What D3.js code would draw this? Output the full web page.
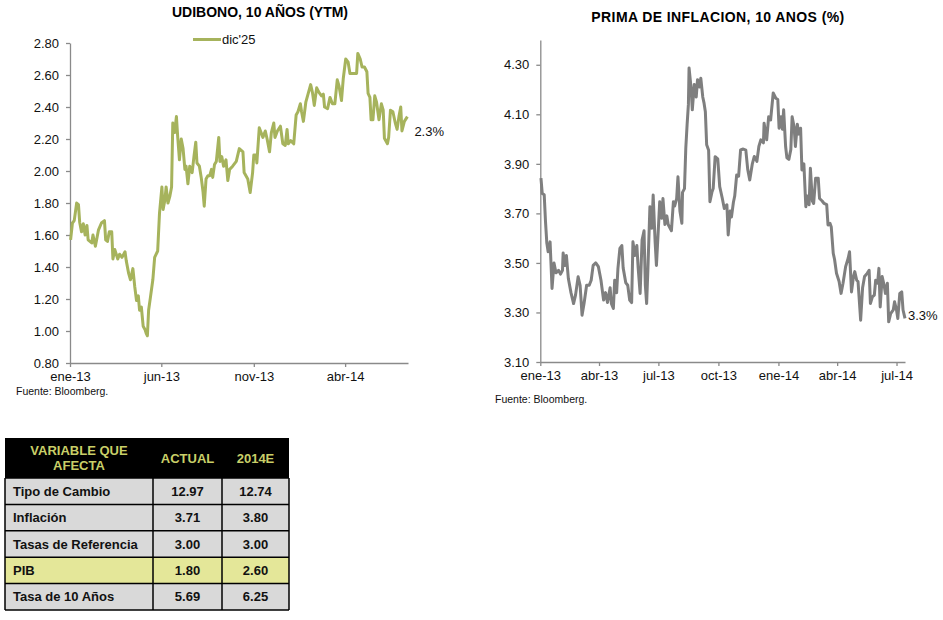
<!DOCTYPE html>
<html>
<head>
<meta charset="utf-8">
<script src="https://cdn.jsdelivr.net/npm/d3@7"></script>
<style>
  html, body { margin: 0; padding: 0; background: #fff; }
  svg { display: block; font-family: "Liberation Sans", Arial, sans-serif; }
</style>
</head>
<body>
<svg id="chart" width="943" height="620"></svg>
<script>
// ---------------- DATA ----------------
const monthNames = ["ene","feb","mar","abr","may","jun","jul","ago","sep","oct","nov","dic"];

const udibonoTitle = "UDIBONO, 10 AÑOS (YTM)";
const udibonoLegend = "dic'25";
const udibonoLastLabel = "2.3%";
const udibonoTicksY = [0.80, 1.00, 1.20, 1.40, 1.60, 1.80, 2.00, 2.20, 2.40, 2.60, 2.80];
const udibonoTicksX = ["2013-01-01", "2013-06-01", "2013-11-01", "2014-04-01"];
const udibonoData = [
  ["2013-01-02",1.57],["2013-01-05",1.675],["2013-01-08",1.69],["2013-01-12",1.80],["2013-01-15",1.79],
  ["2013-01-17",1.68],["2013-01-20",1.62],["2013-01-23",1.67],["2013-01-26",1.60],["2013-01-29",1.66],
  ["2013-01-31",1.57],["2013-02-06",1.55],["2013-02-08",1.60],["2013-02-12",1.53],["2013-02-17",1.63],
  ["2013-02-22",1.675],["2013-02-27",1.69],["2013-03-01",1.57],["2013-03-04",1.56],["2013-03-07",1.62],
  ["2013-03-11",1.62],["2013-03-13",1.45],["2013-03-16",1.51],["2013-03-21",1.45],["2013-03-24",1.48],
  ["2013-03-28",1.46],["2013-04-02",1.495],["2013-04-04",1.44],["2013-04-08",1.36],["2013-04-11",1.32],
  ["2013-04-15",1.39],["2013-04-18",1.28],["2013-04-21",1.19],["2013-04-24",1.22],["2013-04-26",1.13],
  ["2013-04-29",1.15],["2013-05-02",1.03],["2013-05-05",1.01],["2013-05-07",0.985],["2013-05-09",0.97],
  ["2013-05-11",1.13],["2013-05-14",1.21],["2013-05-18",1.32],["2013-05-21",1.46],["2013-05-26",1.50],
  ["2013-05-29",1.735],["2013-06-02",1.90],["2013-06-04",1.76],["2013-06-07",1.82],["2013-06-09",1.90],
  ["2013-06-12",1.80],["2013-06-15",1.84],["2013-06-18",1.90],["2013-06-20",2.30],["2013-06-23",2.24],
  ["2013-06-26",2.34],["2013-06-28",2.22],["2013-07-01",2.07],["2013-07-04",2.20],["2013-07-07",2.14],
  ["2013-07-10",2.01],["2013-07-12",2.03],["2013-07-15",1.92],["2013-07-18",2.03],["2013-07-22",1.99],
  ["2013-07-25",2.09],["2013-07-28",2.18],["2013-07-30",2.05],["2013-08-03",2.03],["2013-08-06",1.96],
  ["2013-08-09",1.87],["2013-08-11",1.78],["2013-08-14",1.95],["2013-08-17",1.97],["2013-08-20",1.97],
  ["2013-08-23",2.01],["2013-08-25",1.96],["2013-08-28",2.04],["2013-08-31",2.06],["2013-09-04",2.21],
  ["2013-09-06",2.06],["2013-09-09",2.09],["2013-09-12",2.03],["2013-09-16",2.07],["2013-09-19",1.94],
  ["2013-09-22",2.01],["2013-09-27",2.03],["2013-10-03",2.06],["2013-10-08",2.14],["2013-10-14",2.12],
  ["2013-10-16",1.99],["2013-10-22",1.95],["2013-10-26",1.865],["2013-10-30",1.99],["2013-11-01",2.10],
  ["2013-11-05",2.10],["2013-11-06",2.05],["2013-11-10",2.27],["2013-11-16",2.21],["2013-11-20",2.25],
  ["2013-11-23",2.20],["2013-11-27",2.12],["2013-11-30",2.24],["2013-12-04",2.30],["2013-12-06",2.21],
  ["2013-12-10",2.25],["2013-12-15",2.28],["2013-12-19",2.17],["2013-12-23",2.16],["2013-12-26",2.26],
  ["2013-12-28",2.17],["2014-01-01",2.19],["2014-01-06",2.17],["2014-01-10",2.35],["2014-01-13",2.37],
  ["2014-01-17",2.42],["2014-01-19",2.37],["2014-01-22",2.31],["2014-01-26",2.43],["2014-01-30",2.485],
  ["2014-02-03",2.54],["2014-02-06",2.49],["2014-02-09",2.41],["2014-02-13",2.52],["2014-02-17",2.49],
  ["2014-02-21",2.47],["2014-02-24",2.48],["2014-02-26",2.40],["2014-03-03",2.39],["2014-03-07",2.46],
  ["2014-03-11",2.42],["2014-03-15",2.42],["2014-03-19",2.57],["2014-03-22",2.53],["2014-03-26",2.44],
  ["2014-03-29",2.58],["2014-04-02",2.70],["2014-04-06",2.68],["2014-04-09",2.61],["2014-04-15",2.61],
  ["2014-04-20",2.61],["2014-04-22",2.735],["2014-04-26",2.70],["2014-04-29",2.65],["2014-05-03",2.65],
  ["2014-05-07",2.62],["2014-05-09",2.485],["2014-05-12",2.46],["2014-05-14",2.32],["2014-05-17",2.32],
  ["2014-05-20",2.47],["2014-05-23",2.43],["2014-05-27",2.32],["2014-05-31",2.42],["2014-06-03",2.38],
  ["2014-06-05",2.205],["2014-06-10",2.17],["2014-06-12",2.21],["2014-06-15",2.38],["2014-06-19",2.37],
  ["2014-06-23",2.30],["2014-06-26",2.26],["2014-06-29",2.34],["2014-07-02",2.40],["2014-07-04",2.25],
  ["2014-07-08",2.31],["2014-07-13",2.34]
];

const primaTitle = "PRIMA DE INFLACION, 10 ANOS (%)";
const primaLastLabel = "3.3%";
const primaTicksY = [3.10, 3.30, 3.50, 3.70, 3.90, 4.10, 4.30];
const primaTicksX = ["2013-01-01","2013-04-01","2013-07-01","2013-10-01","2014-01-01","2014-04-01","2014-07-01"];
const primaData = [
  ["2013-01-02",3.842],["2013-01-04",3.78],["2013-01-07",3.775],["2013-01-09",3.666],["2013-01-11",3.58],
  ["2013-01-13",3.545],["2013-01-16",3.585],["2013-01-19",3.397],["2013-01-22",3.50],["2013-01-25",3.46],
  ["2013-01-29",3.47],["2013-02-01",3.455],["2013-02-04",3.47],["2013-02-05",3.54],["2013-02-08",3.49],
  ["2013-02-10",3.53],["2013-02-13",3.437],["2013-02-17",3.38],["2013-02-21",3.336],["2013-02-24",3.37],
  ["2013-02-28",3.444],["2013-03-03",3.41],["2013-03-06",3.289],["2013-03-09",3.335],["2013-03-13",3.41],
  ["2013-03-17",3.41],["2013-03-20",3.43],["2013-03-23",3.49],["2013-03-27",3.50],["2013-03-31",3.485],
  ["2013-04-04",3.43],["2013-04-08",3.35],["2013-04-11",3.38],["2013-04-14",3.34],["2013-04-18",3.40],
  ["2013-04-20",3.335],["2013-04-23",3.316],["2013-04-25",3.43],["2013-04-28",3.38],["2013-04-30",3.478],
  ["2013-05-03",3.559],["2013-05-06",3.57],["2013-05-08",3.48],["2013-05-12",3.42],["2013-05-15",3.41],
  ["2013-05-18",3.35],["2013-05-21",3.34],["2013-05-23",3.585],["2013-05-26",3.53],["2013-05-29",3.57],
  ["2013-05-31",3.48],["2013-06-03",3.377],["2013-06-06",3.592],["2013-06-09",3.63],["2013-06-11",3.41],
  ["2013-06-13",3.336],["2013-06-15",3.48],["2013-06-18",3.727],["2013-06-21",3.64],["2013-06-23",3.774],
  ["2013-06-26",3.585],["2013-06-28",3.49],["2013-07-01",3.64],["2013-07-03",3.747],["2013-07-06",3.68],
  ["2013-07-08",3.76],["2013-07-11",3.655],["2013-07-14",3.69],["2013-07-16",3.655],["2013-07-19",3.64],
  ["2013-07-21",3.63],["2013-07-24",3.747],["2013-07-26",3.73],["2013-07-29",3.76],["2013-07-31",3.848],
  ["2013-08-03",3.71],["2013-08-06",3.66],["2013-08-07",3.785],["2013-08-10",3.80],["2013-08-12",3.963],
  ["2013-08-14",4.057],["2013-08-16",4.14],["2013-08-17",4.287],["2013-08-20",4.21],["2013-08-22",4.118],
  ["2013-08-25",4.22],["2013-08-28",4.17],["2013-08-30",4.24],["2013-09-02",4.21],["2013-09-04",4.246],
  ["2013-09-07",4.17],["2013-09-09",4.145],["2013-09-11",4.11],["2013-09-13",3.977],["2013-09-16",3.955],
  ["2013-09-18",3.747],["2013-09-21",3.785],["2013-09-23",3.80],["2013-09-26",3.929],["2013-09-30",3.92],
  ["2013-10-03",3.808],["2013-10-07",3.76],["2013-10-10",3.72],["2013-10-14",3.735],["2013-10-16",3.613],
  ["2013-10-19",3.71],["2013-10-21",3.685],["2013-10-24",3.745],["2013-10-26",3.77],["2013-10-29",3.855],
  ["2013-11-01",3.85],["2013-11-04",3.956],["2013-11-08",3.96],["2013-11-12",3.955],["2013-11-15",3.876],
  ["2013-11-18",3.835],["2013-11-22",3.90],["2013-11-25",3.93],["2013-11-29",3.91],["2013-12-02",3.97],
  ["2013-12-05",3.997],["2013-12-09",3.985],["2013-12-10",4.064],["2013-12-14",3.997],["2013-12-17",4.09],
  ["2013-12-20",4.077],["2013-12-24",4.186],["2013-12-28",4.165],["2013-12-31",4.16],["2014-01-02",4.044],
  ["2014-01-05",4.09],["2014-01-07",4.04],["2014-01-09",4.118],["2014-01-12",3.97],["2014-01-14",3.924],
  ["2014-01-17",3.918],["2014-01-20",3.958],["2014-01-22",4.09],["2014-01-25",4.05],["2014-01-27",3.97],
  ["2014-01-30",4.06],["2014-02-01",4.02],["2014-02-04",4.044],["2014-02-06",3.875],["2014-02-09",3.90],
  ["2014-02-12",3.727],["2014-02-14",3.77],["2014-02-17",3.735],["2014-02-19",3.882],["2014-02-22",3.75],
  ["2014-02-24",3.74],["2014-02-27",3.842],["2014-03-03",3.842],["2014-03-05",3.76],["2014-03-09",3.75],
  ["2014-03-12",3.74],["2014-03-16",3.735],["2014-03-18",3.653],["2014-03-21",3.66],["2014-03-23",3.645],
  ["2014-03-26",3.539],["2014-03-28",3.515],["2014-03-31",3.458],["2014-04-04",3.425],["2014-04-07",3.377],
  ["2014-04-10",3.418],["2014-04-14",3.485],["2014-04-18",3.52],["2014-04-20",3.545],["2014-04-23",3.383],
  ["2014-04-26",3.445],["2014-04-28",3.465],["2014-05-01",3.43],["2014-05-03",3.425],["2014-05-07",3.269],
  ["2014-05-10",3.40],["2014-05-13",3.445],["2014-05-17",3.458],["2014-05-20",3.47],["2014-05-22",3.336],
  ["2014-05-25",3.363],["2014-05-28",3.37],["2014-05-30",3.43],["2014-06-02",3.418],["2014-06-04",3.478],
  ["2014-06-06",3.322],["2014-06-09",3.445],["2014-06-12",3.41],["2014-06-14",3.377],["2014-06-17",3.418],
  ["2014-06-19",3.262],["2014-06-22",3.295],["2014-06-26",3.31],["2014-06-28",3.343],["2014-07-01",3.31],
  ["2014-07-03",3.276],["2014-07-06",3.377],["2014-07-09",3.383],["2014-07-11",3.31],["2014-07-14",3.276]
];

const dateDomain = ["2013-01-01", "2014-07-14"];
const sourceNote = "Fuente: Bloomberg.";

const tableHeader = ["VARIABLE QUE\nAFECTA", "ACTUAL", "2014E"];
const tableVariables = ["Tipo de Cambio", "Inflación", "Tasas de Referencia", "PIB", "Tasa de 10 Años"];
const tableActual = ["12.97", "3.71", "3.00", "1.80", "5.69"];
const tableEstimate = ["12.74", "3.80", "3.00", "2.60", "6.25"];
const tableHighlight = ["PIB"];

// ---------------- DRAWING ----------------
const parse = d3.timeParse("%Y-%m-%d");
const fmtMonth = d => monthNames[d.getMonth()] + "-" + String(d.getFullYear()).slice(2);
const svg = d3.select("#chart");
const axisColor = "#8a8a8a";

function drawChart(opts) {
  const g = svg.append("g");
  const x = d3.scaleTime().domain(dateDomain.map(parse)).range([opts.left, opts.right]);
  const y = d3.scaleLinear().domain(opts.yDomain).range([opts.bottom, opts.top]);

  const ya = g.append("g").attr("transform", `translate(${opts.left},0)`)
    .call(d3.axisLeft(y).tickValues(opts.yTicks).tickFormat(d3.format(".2f")).tickSize(4).tickSizeOuter(0).tickPadding(7));
  const xa = g.append("g").attr("transform", `translate(0,${opts.bottom})`)
    .call(d3.axisBottom(x).tickValues(opts.xTicks.map(parse)).tickFormat(fmtMonth).tickSize(4).tickSizeOuter(0).tickPadding(5));
  [ya, xa].forEach(a => {
    a.select(".domain").attr("stroke", axisColor).attr("stroke-width", 1.3);
    a.selectAll(".tick line").attr("stroke", axisColor).attr("stroke-width", 1.3);
    a.selectAll(".tick text").attr("fill", "#111").style("font-size", "13px")
      .style("font-family", "'Liberation Sans', Arial, sans-serif");
  });

  const line = d3.line().x(d => x(parse(d[0]))).y(d => y(d[1]));
  g.append("path").datum(opts.data)
    .attr("fill", "none").attr("stroke", opts.color).attr("stroke-width", 3)
    .attr("stroke-linejoin", "round").attr("d", line);

  const last = opts.data[opts.data.length - 1];
  g.append("text").attr("x", x(parse(last[0])) + opts.labelDx).attr("y", y(last[1]) + opts.labelDy)
    .attr("dy", "0.35em").style("font-size", "13px").attr("fill", "#111").text(opts.lastLabel);

  g.append("text").attr("x", opts.titleX).attr("y", opts.titleY).attr("text-anchor", "middle")
    .style("font-size", "14px").style("font-weight", "bold").attr("fill", "#000")
    .style("letter-spacing", opts.titleSpacing || "0px").text(opts.title);

  g.append("text").attr("x", opts.srcX).attr("y", opts.srcY)
    .style("font-size", "10.5px").attr("fill", "#111").text(sourceNote);
  return {x, y, g};
}

const left = drawChart({
  left: 70, right: 408, top: 43, bottom: 363,
  yDomain: [0.80, 2.80], yTicks: udibonoTicksY, xTicks: udibonoTicksX,
  data: udibonoData, color: "#a6b35c", lastLabel: udibonoLastLabel, labelDx: 7, labelDy: 15,
  title: udibonoTitle, titleX: 260, titleY: 17,
  srcX: 16, srcY: 395
});
left.g.append("line").attr("x1", 193).attr("x2", 221).attr("y1", 39.5).attr("y2", 39.5)
  .attr("stroke", "#a6b35c").attr("stroke-width", 3);
left.g.append("text").attr("x", 222).attr("y", 39.5).attr("dy", "0.35em")
  .style("font-size", "13px").attr("fill", "#111").text(udibonoLegend);

drawChart({
  left: 540.3, right: 905, top: 40, bottom: 362,
  yDomain: [3.10, 4.40], yTicks: primaTicksY, xTicks: primaTicksX,
  data: primaData, color: "#7f7f7f", lastLabel: primaLastLabel, labelDx: 3, labelDy: -3,
  title: primaTitle, titleX: 718, titleY: 22, titleSpacing: "0.4px",
  srcX: 495, srcY: 403
});

// ---------------- TABLE ----------------
const tbl = svg.append("g");
const colX = [5, 153, 222, 289];
const headerTop = 438, headerBottom = 478, rowH = 26.4;
const tableFont = "'Liberation Sans', Arial, sans-serif";

tbl.append("rect").attr("x", colX[0]).attr("y", headerTop).attr("width", colX[3] - colX[0])
  .attr("height", headerBottom - headerTop).attr("fill", "#000");

tableHeader.forEach((h, i) => {
  const cx = (colX[i] + colX[i + 1]) / 2;
  const lines = h.split("\n");
  const t = tbl.append("text").attr("text-anchor", "middle").attr("fill", "#c9cf68")
    .style("font-size", "13px").style("font-weight", "bold").style("font-family", tableFont);
  lines.forEach((ln, k) => {
    t.append("tspan").attr("x", cx)
      .attr("y", (headerTop + headerBottom) / 2 + (k - (lines.length - 1) / 2) * 14.5)
      .attr("dy", "0.35em").text(ln);
  });
});

tableVariables.forEach((v, r) => {
  const y0 = headerBottom + r * rowH;
  const bg = tableHighlight.includes(v) ? "#e4e799" : "#d9d9d9";
  tbl.append("rect").attr("x", colX[0]).attr("y", y0).attr("width", colX[3] - colX[0])
    .attr("height", rowH).attr("fill", bg);
  const cy = y0 + rowH / 2;
  tbl.append("text").attr("x", 13).attr("y", cy).attr("dy", "0.35em").attr("fill", "#111")
    .style("font-size", "13px").style("font-weight", "bold").style("font-family", tableFont).text(v);
  [tableActual[r], tableEstimate[r]].forEach((val, c) => {
    tbl.append("text").attr("x", (colX[c + 1] + colX[c + 2]) / 2).attr("y", cy).attr("dy", "0.35em")
      .attr("text-anchor", "middle").attr("fill", "#111")
      .style("font-size", "13px").style("font-weight", "bold").style("font-family", tableFont).text(val);
  });
});

const tableBottom = headerBottom + tableVariables.length * rowH;
d3.range(tableVariables.length + 1).forEach(r => {
  const yy = headerBottom + r * rowH;
  tbl.append("line").attr("x1", colX[0]).attr("x2", colX[3]).attr("y1", yy).attr("y2", yy)
    .attr("stroke", "#000").attr("stroke-width", 1.5);
});
colX.forEach(cx => {
  tbl.append("line").attr("x1", cx).attr("x2", cx).attr("y1", headerBottom).attr("y2", tableBottom)
    .attr("stroke", "#000").attr("stroke-width", 1.5);
});
</script>
</body>
</html>
